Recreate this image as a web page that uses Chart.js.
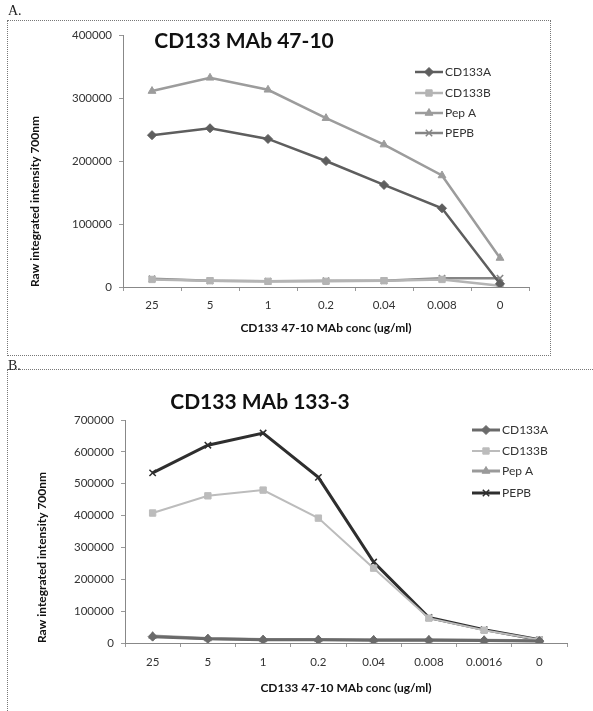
<!DOCTYPE html>
<html><head><meta charset="utf-8">
<script src="https://cdn.jsdelivr.net/npm/chart.js@4/dist/chart.umd.min.js"></script>
<style>
html,body{margin:0;padding:0;background:#fff;width:593px;height:711px;overflow:hidden;position:relative}
canvas{position:absolute;left:0}
#cA{top:0}
#cB{top:360px}
.box{position:absolute;border:1px dotted #777;pointer-events:none}
.lbl{position:absolute;font-family:"Liberation Serif","DejaVu Serif",serif;font-size:14px;color:#222}
</style></head><body>
<canvas id="cA" width="593" height="360"></canvas>
<canvas id="cB" width="593" height="351"></canvas>
<div class="box" style="left:7px;top:20px;width:542px;height:334px"></div>
<div class="box" style="left:7px;top:369px;width:600px;height:400px"></div>
<div class="lbl" style="left:8px;top:3px">A.</div>
<div class="lbl" style="left:8px;top:358px">B.</div>
<script>
// ---- data ----
const seriesNames = ['CD133A', 'CD133B', 'Pep A', 'PEPB'];

const titleA = 'CD133 MAb 47-10';
const catsA = ['25', '5', '1', '0.2', '0.04', '0.008', '0'];
const cd133aA = [241000, 252000, 235000, 200000, 162000, 125000, 5000];
const cd133bA = [12000, 10000, 9000, 9000, 10000, 12000, 2000];
const pepaA   = [311000, 332000, 313000, 268000, 226000, 177000, 46000];
const pepbA   = [13000, 10000, 9000, 10000, 10000, 14000, 14000];

const titleB = 'CD133 MAb 133-3';
const catsB = ['25', '5', '1', '0.2', '0.04', '0.008', '0.0016', '0'];
const cd133aB = [20000, 13000, 10000, 10000, 9000, 9000, 8000, 6000];
const cd133bB = [408000, 462000, 480000, 392000, 235000, 78000, 40000, 10000];
const pepaB   = [22000, 14000, 11000, 11000, 10000, 10000, 9000, 7000];
const pepbB   = [534000, 621000, 659000, 520000, 254000, 80000, 42000, 10000];

const yTitle = 'Raw integrated intensity 700nm';
const xTitle = 'CD133 47-10 MAb conc (ug/ml)';

// ---- styling ----
const styleA = [
  {color: '#5e5e5e', point: 'rectRot', w: 2.5},
  {color: '#b4b4b4', point: 'rect', w: 2.5},
  {color: '#9c9c9c', point: 'triangle', w: 2.5},
  {color: '#858585', point: 'crossRot', w: 2.5}
];
const styleB = [
  {color: '#6a6a6a', point: 'rectRot', w: 3},
  {color: '#bcbcbc', point: 'rect', w: 2},
  {color: '#9a9a9a', point: 'triangle', w: 3},
  {color: '#2e2e2e', point: 'crossRot', w: 3}
];

function makeSets(values, styles) {
  return values.map((v, i) => ({
    label: seriesNames[i],
    data: v,
    borderColor: styles[i].color,
    backgroundColor: styles[i].color,
    pointBackgroundColor: styles[i].color,
    pointBorderColor: styles[i].color,
    pointBorderWidth: styles[i].point === 'crossRot' ? 1.5 : 1,
    borderWidth: styles[i].w,
    pointStyle: styles[i].point,
    pointRadius: 4.5,
    tension: 0
  }));
}

const decor = {
  id: 'decor',
  afterDraw(chart, args, o) {
    const ctx = chart.ctx;
    ctx.save();
    ctx.font = 'bold 21px Lato';
    ctx.fillStyle = '#111';
    ctx.textAlign = 'center';
    ctx.textBaseline = 'middle';
    ctx.fillText(o.title, o.titleX, o.titleY);
    ctx.font = '12px Lato';
    ctx.textAlign = 'left';
    chart.data.datasets.forEach((ds, i) => {
      const y = o.legendY[i];
      ctx.strokeStyle = ds.borderColor;
      ctx.lineWidth = ds.borderWidth;
      ctx.beginPath();
      ctx.moveTo(o.legendX, y);
      ctx.lineTo(o.legendX + o.legendLine, y);
      ctx.stroke();
      if (Chart.helpers && Chart.helpers.drawPoint) {
        ctx.fillStyle = ds.pointBackgroundColor;
        ctx.strokeStyle = ds.pointBorderColor;
        ctx.lineWidth = ds.pointBorderWidth;
        Chart.helpers.drawPoint(ctx, {pointStyle: ds.pointStyle, radius: ds.pointRadius, rotation: 0, borderWidth: ds.pointBorderWidth}, o.legendX + o.legendLine / 2, y);
      }
      ctx.fillStyle = '#333';
      ctx.fillText(ds.label, o.legendX + o.legendLine + 2, y);
    });
    ctx.restore();
  }
};

function makeChart(id, cats, sets, yMax, lay, deco) {
  return new Chart(document.getElementById(id), {
    type: 'line',
    data: {labels: cats, datasets: sets},
    plugins: [decor],
    options: {
      responsive: false,
      animation: false,
      devicePixelRatio: 1,
      layout: {padding: {left: lay.padL, right: lay.padR, top: lay.padT, bottom: lay.padB}},
      plugins: {legend: {display: false}, title: {display: false}, tooltip: {enabled: false}, decor: deco},
      scales: {
        x: {
          type: 'category',
          offset: true,
          afterFit: s => { s.height = lay.xH; },
          grid: {offset: true, drawOnChartArea: false, drawTicks: true, tickLength: 4, color: '#999'},
          border: {display: true, color: '#888', width: 1},
          ticks: {padding: lay.xTickPad, color: '#333', font: {family: 'Lato', size: 11.5}, maxRotation: 0, autoSkip: false},
          title: {display: true, text: xTitle, color: '#111', padding: 0, font: {family: 'Lato', size: 12, weight: 'bold'}}
        },
        y: {
          min: 0, max: yMax,
          afterFit: s => { s.width = lay.yW; },
          grid: {drawOnChartArea: false, drawTicks: true, tickLength: 4, color: '#999'},
          border: {display: true, color: '#888', width: 1},
          ticks: {stepSize: 100000, padding: 7, color: '#333', font: {family: 'Lato', size: 11.5}, callback: v => String(v)},
          title: {display: true, text: yTitle, align: 'start', color: '#111', padding: 0, font: {family: 'Lato', size: 12, weight: 'bold'}}
        }
      }
    }
  });
}

makeChart('cA', catsA, makeSets([cd133aA, cd133bA, pepaA, pepbA], styleA), 400000,
  {padL: 28, padR: 64, padT: 35, padB: 25, yW: 95, xH: 48, xTickPad: 7},
  {title: titleA, titleX: 244, titleY: 41, legendX: 415, legendLine: 28, legendY: [72, 93, 113, 133]});

makeChart('cB', catsB, makeSets([cd133aB, cd133bB, pepaB, pepbB], styleB), 700000,
  {padL: 35, padR: 26, padT: 60, padB: 16, yW: 90, xH: 52, xTickPad: 8},
  {title: titleB, titleX: 260, titleY: 42, legendX: 472, legendLine: 28, legendY: [70, 91, 111, 133]});
</script>
</body></html>
